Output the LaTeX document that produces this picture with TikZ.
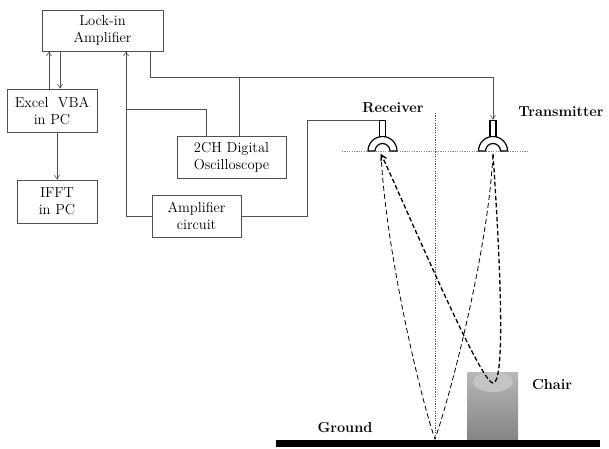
\documentclass[tikz,border=0pt]{standalone}
\usetikzlibrary{arrows.meta}
\definecolor{linegrey}{HTML}{505050}
\definecolor{guidegrey}{HTML}{8A8A8A}
\definecolor{chairdark}{HTML}{858585}
\definecolor{chairlight}{HTML}{C4C4C4}

\begin{document}
\begin{tikzpicture}[
  x=1pt, y=1pt,
  font=\fontsize{14.5}{17}\selectfont,
  block/.style={rectangle, draw=linegrey, line width=0.7pt, align=center, inner sep=0pt},
  wire/.style={draw=linegrey, line width=0.6pt},
  arrow/.style={wire, -{Straight Barb[length=4pt,width=5pt]}},
  stem/.style={rectangle, draw=black, fill=white, line width=1.2pt, minimum width=6pt, minimum height=16pt, inner sep=0pt},
  dome/.style={draw=black, fill=white, line width=1.2pt},
  guide/.style={draw=guidegrey, line width=0.5pt, dash pattern=on 1.2pt off 1.2pt},
  echo/.style={draw=black, line width=0.8pt, dash pattern=on 5pt off 3pt},
  strongecho/.style={echo, line width=1.3pt, dash pattern=on 4.5pt off 2.5pt},
  tag/.style={font=\fontsize{14.5}{17}\selectfont\bfseries}
]

\useasboundingbox (0,0) rectangle (609,448);

\node[block, minimum width=121pt, minimum height=41pt] (lockin) at (102.5,417.5) {Lock-in\\Amplifier};
\node[block, minimum width=90pt, minimum height=43pt] (excel) at (52,337.5) {Excel\ \ VBA\\in PC};
\node[block, minimum width=80pt, minimum height=43pt] (ifft) at (57,246.5) {IFFT\\in PC};
\node[block, minimum width=109pt, minimum height=42pt] (scope) at (231.5,291) {2CH Digital\\Oscilloscope};
\node[block, minimum width=89pt, minimum height=42pt] (ampc) at (196.5,232) {Amplifier\\circuit};

\coordinate (rx) at (382.5,297);
\coordinate (tx) at (493,297);
\draw[guide] (342,297) -- (527,297);
\draw[dome] ([xshift=-14.5pt]rx) arc[start angle=180, end angle=0, radius=14.5pt] -- ++(-7,0) arc[start angle=0, end angle=180, radius=7.5pt] -- cycle;
\draw[dome] ([xshift=-14.5pt]tx) arc[start angle=180, end angle=0, radius=14.5pt] -- ++(-7,0) arc[start angle=0, end angle=180, radius=7.5pt] -- cycle;
\node[stem, anchor=south] (rxstem) at ([yshift=14pt]rx) {};
\node[stem, anchor=south] (txstem) at ([yshift=14pt]tx) {};

\node[tag] (rxlabel) at (393,340) {Receiver};
\node[tag] (txlabel) at (561,336) {Transmitter};

\coordinate (split) at (126,339);
\coordinate (tap) at (239,371);
\coordinate (scopein) at ([xshift=-25.5pt]scope.north);

\draw[arrow] ([xshift=-3pt]excel.north) -- ([xshift=-3pt]excel.north |- lockin.south);
\draw[arrow] ([xshift=8pt]excel.north |- lockin.south) -- ([xshift=8pt]excel.north);
\draw[arrow] (ifft.north |- excel.south) -- (ifft.north);
\draw[arrow] (ampc.west) -| (lockin.south -| split);
\draw[wire] (split) -| (scopein);
\draw[arrow] ([xshift=47.5pt]lockin.south) -- ++(0,-26) -| (txstem.north);
\draw[wire] (scope.north -| tap) -- (tap);
\draw[wire] (ampc.east) -| ([xshift=-72pt]rxstem.north west) -- (rxstem.north west);

\shade[top color=chairlight!80!chairdark, bottom color=chairdark] (467,9) rectangle (518,76);
\fill[chairlight] (493,66) ellipse [x radius=20, y radius=10];
\node[tag] (chairlabel) at (552,63) {Chair};

\fill[black] (276,1) rectangle (600,8);
\node[tag] (groundlabel) at (345,20) {Ground};

\coordinate (rxfoot) at (381,294);
\coordinate (txfoot) at (493,294);
\coordinate (bounce) at (435,9);
\coordinate (seat) at (493,65);

\draw[guide, draw=black!70] (435,335) -- (bounce);
\draw[echo] (rxfoot) .. controls (386,195) and (421,48) .. (bounce) .. controls (449,48) and (488,195) .. (txfoot);
\draw[strongecho, -{Straight Barb[length=5pt,width=6pt]}] (txfoot) .. controls (500,190) and (506,65) .. (seat) .. controls (480,65) and (402,250) .. (rxfoot);

\end{tikzpicture}
\end{document}
